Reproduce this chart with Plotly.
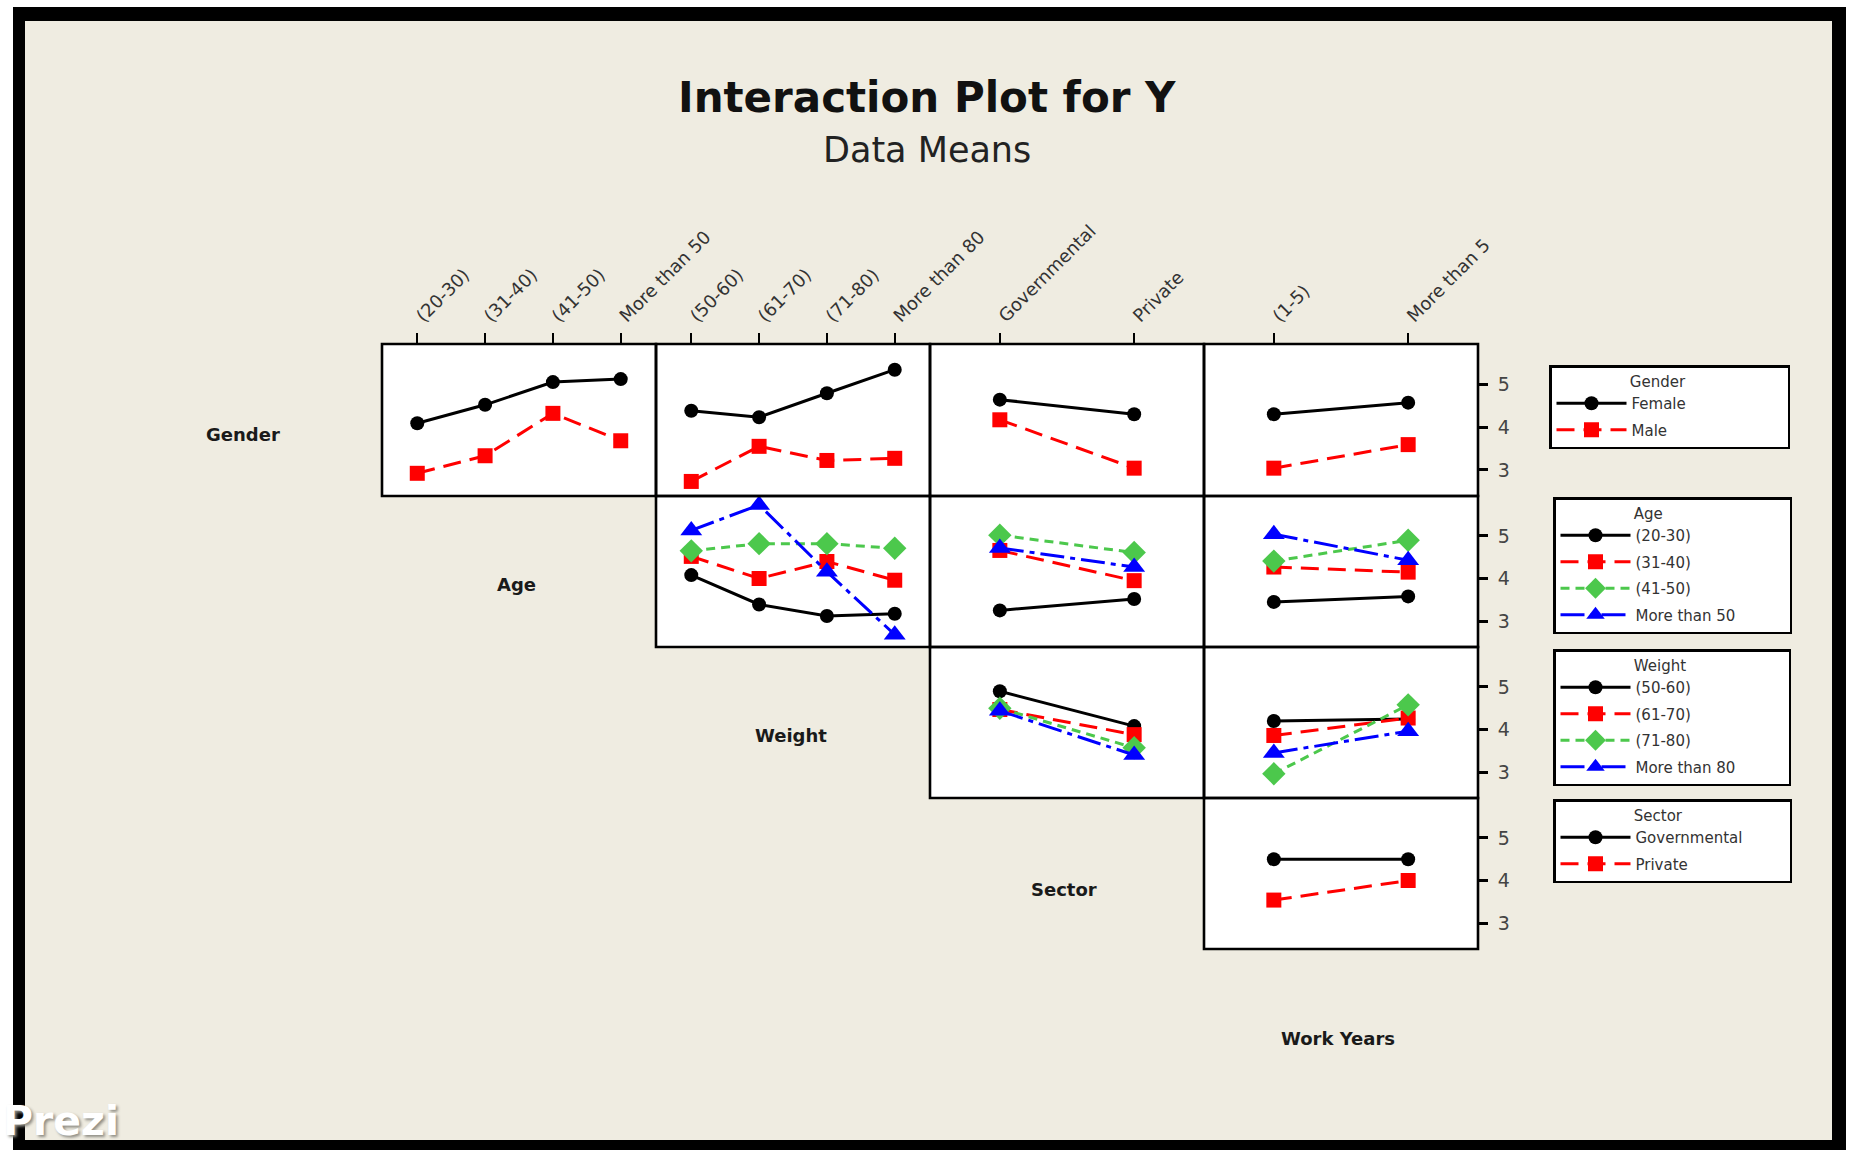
import plotly.graph_objects as go

# ---- factor levels -------------------------------------------------------
gender_levels = ["Female", "Male"]
age_levels = ["(20-30)", "(31-40)", "(41-50)", "More than 50"]
weight_levels = ["(50-60)", "(61-70)", "(71-80)", "More than 80"]
sector_levels = ["Governmental", "Private"]
work_levels = ["(1-5)", "More than 5"]

# ---- data means of Y: one row per level of the trace factor,
#      one column per level of the x-axis factor ---------------------------
gender_by_age = [[4.09, 4.52, 5.05, 5.12],
                 [2.92, 3.33, 4.32, 3.68]]
gender_by_weight = [[4.38, 4.23, 4.79, 5.34],
                    [2.73, 3.55, 3.22, 3.27]]
gender_by_sector = [[4.64, 4.30],
                    [4.17, 3.04]]
gender_by_work = [[4.30, 4.57],
                  [3.04, 3.59]]

age_by_weight = [[4.08, 3.39, 3.12, 3.17],
                 [4.52, 4.00, 4.40, 3.96],
                 [4.65, 4.82, 4.82, 4.71],
                 [5.13, 5.73, 4.16, 2.68]]
age_by_sector = [[3.25, 3.52],
                 [4.66, 3.95],
                 [5.02, 4.61],
                 [4.72, 4.27]]
age_by_work = [[3.45, 3.58],
               [4.27, 4.15],
               [4.41, 4.90],
               [5.04, 4.43]]

weight_by_sector = [[4.90, 4.08],
                    [4.47, 3.88],
                    [4.50, 3.57],
                    [4.44, 3.40]]
weight_by_work = [[4.20, 4.25],
                  [3.86, 4.27],
                  [2.96, 4.58],
                  [3.45, 3.96]]

sector_by_work = [[4.50, 4.50],
                  [3.54, 4.00]]

y_ticks = [3, 4, 5]

row_factors = [("Gender", gender_levels), ("Age", age_levels),
               ("Weight", weight_levels), ("Sector", sector_levels)]
col_factors = [("Age", age_levels), ("Weight", weight_levels),
               ("Sector", sector_levels), ("Work Years", work_levels)]

panel_means = {
    (0, 0): gender_by_age, (0, 1): gender_by_weight,
    (0, 2): gender_by_sector, (0, 3): gender_by_work,
    (1, 1): age_by_weight, (1, 2): age_by_sector, (1, 3): age_by_work,
    (2, 2): weight_by_sector, (2, 3): weight_by_work,
    (3, 3): sector_by_work,
}

# ---- page geometry (pixels) ---------------------------------------------
W, H = 1856, 1150
col_px = [382, 656, 930, 1204, 1478]
row_px = [344, 496, 647, 798, 949]
y_range = [2.39, 5.94]

colors = ["#000000", "#FF0000", "#4CC84C", "#0000FF"]
symbols = ["circle", "square", "diamond", "triangle-up"]
dashes = ["solid", "18px,9px", "9px,6px", "24px,6px,5px,6px"]
msizes = [14, 15, 18, 19]

BG = "#EFECE1"
FONT = "DejaVu Sans"
NB = "\u00a0"

fig = go.Figure()
layout_axes = {}
shapes = []

legend_names = ["legend", "legend2", "legend3", "legend4"]

k = 0
for r in range(4):
    for c in range(r, 4):
        k += 1
        xname = "x" if k == 1 else f"x{k}"
        yname = "y" if k == 1 else f"y{k}"
        xkey = "xaxis" if k == 1 else f"xaxis{k}"
        ykey = "yaxis" if k == 1 else f"yaxis{k}"
        xlevels = col_factors[c][1]
        tlevels = row_factors[r][1]
        means = panel_means[(r, c)]

        for i, lev in enumerate(tlevels):
            fig.add_trace(go.Scatter(
                x=xlevels, y=means[i], mode="lines+markers",
                name=lev,
                xaxis=xname, yaxis=yname,
                line=dict(color=colors[i], width=3, dash=dashes[i]),
                marker=dict(color=colors[i], symbol=symbols[i], size=msizes[i],
                            line=dict(width=0)),
                legend=legend_names[r],
                legendgroup=f"{r}-{i}",
                showlegend=(c == r),
                hoverinfo="skip",
            ))

        xa = dict(
            domain=[col_px[c] / W, col_px[c + 1] / W],
            anchor=yname,
            type="category",
            categoryorder="array", categoryarray=xlevels,
            range=[-0.52, len(xlevels) - 0.48],
            showline=False, showgrid=False, zeroline=False,
            fixedrange=True, automargin=False,
        )
        if r == 0:
            xa.update(side="top", ticks="outside", ticklen=10, tickwidth=2,
                      tickcolor="black", tickangle=-45, showticklabels=True,
                      tickfont=dict(family=FONT, size=18, color="#333333"))
        else:
            xa.update(showticklabels=False, ticks="")

        ya = dict(
            domain=[1 - row_px[r + 1] / H, 1 - row_px[r] / H],
            anchor=xname,
            range=y_range,
            showline=False, showgrid=False, zeroline=False,
            fixedrange=True, automargin=False,
        )
        if c == 3:
            ya.update(side="right", ticks="outside", ticklen=9, tickwidth=2.5,
                      tickcolor="black", tickvals=y_ticks, showticklabels=True,
                      ticklabelstandoff=6,
                      tickfont=dict(family=FONT, size=19, color="#444444"))
        else:
            ya.update(showticklabels=False, ticks="")

        layout_axes[xkey] = xa
        layout_axes[ykey] = ya

        # panel frame, drawn on the subplot's domain so shared edges coincide
        shapes.append(dict(type="rect", xref=f"{xname} domain",
                           yref=f"{yname} domain", x0=0, x1=1, y0=0, y1=1,
                           line=dict(color="black", width=2.6),
                           fillcolor="rgba(0,0,0,0)", layer="above"))

# ---- legends, one per trace factor ---------------------------------------
legend_tops = [365, 497, 649, 799]
legend_lefts = [1549, 1553, 1553, 1553]
title_pad_before = 16
title_pad_after = [21, 26, 21, 22]
legends = {}
for r in range(4):
    legends[legend_names[r]] = dict(
        x=legend_lefts[r] / W, y=1 - legend_tops[r] / H,
        xanchor="left", yanchor="top",
        bgcolor="white", bordercolor="black", borderwidth=2.5,
        font=dict(family=FONT, size=15, color="#333333"),
        title=dict(text=NB * title_pad_before + row_factors[r][0]
                   + NB * title_pad_after[r],
                   font=dict(family=FONT, size=15, color="#333333")),
        itemwidth=70, traceorder="grouped", tracegroupgap=4,
        itemclick=False, itemdoubleclick=False,
    )

# ---- text ------------------------------------------------------------------
def label(text, px, py, size, color, **kw):
    d = dict(text=text, x=px / W, y=1 - py / H, xref="paper", yref="paper",
             xanchor="center", yanchor="middle", showarrow=False,
             font=dict(family=FONT, size=size, color=color))
    d.update(kw)
    return d

annotations = [
    label("<b>Interaction Plot for Y</b>", 927, 97, 42, "#111111"),
    label("Data Means", 927, 150, 35, "#222222"),
]
row_label_pos = [(243, 434), (516, 585), (791, 735), (1064, 889), (1338, 1038)]
row_label_text = ["Gender", "Age", "Weight", "Sector", "Work Years"]
for (px, py), t in zip(row_label_pos, row_label_text):
    annotations.append(label(f"<b>{t}</b>", px, py, 18, "#1a1a1a"))

annotations.append(dict(
    text="<b>Prezi</b>", x=1 / W, y=1 - 1147 / H, xref="paper", yref="paper",
    xanchor="left", yanchor="bottom", showarrow=False,
    font=dict(family=FONT, size=41, color="white",
              shadow="2px 2px 3px #8f8d85")))

# ---- outer frame ------------------------------------------------------------
def strip(x0, y0, x1, y1, color):
    return dict(type="rect", xref="paper", yref="paper",
                x0=x0 / W, x1=x1 / W, y0=1 - y1 / H, y1=1 - y0 / H,
                fillcolor=color, line=dict(width=0), layer="above")

shapes += [
    strip(0, 0, W, 7, "white"),
    strip(0, 0, 13, H, "white"),
    strip(1846, 0, W, H, "white"),
    strip(13, 7, 1846, 21, "black"),
    strip(13, 7, 25, H, "black"),
    strip(1832, 7, 1846, H, "black"),
    strip(13, 1140, 1846, H, "black"),
]

fig.update_layout(
    width=W, height=H,
    margin=dict(l=0, r=0, t=0, b=0, pad=0, autoexpand=False),
    paper_bgcolor=BG, plot_bgcolor="white",
    font=dict(family=FONT, color="#333333"),
    annotations=annotations, shapes=shapes,
    hovermode=False,
    **layout_axes, **legends,
)

fig.write_html("out.html")
